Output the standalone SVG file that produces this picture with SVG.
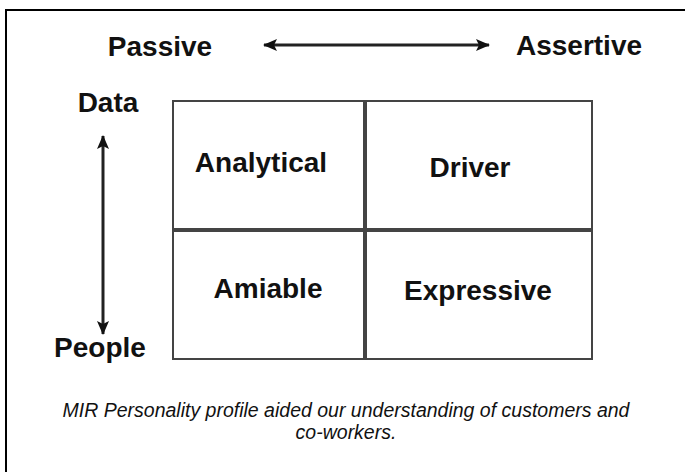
<svg xmlns="http://www.w3.org/2000/svg" width="685" height="472" viewBox="0 0 685 472">
<style>
.lbl{font-family:"Liberation Sans",Arial,sans-serif;font-weight:bold;font-size:28px;fill:#111;text-anchor:middle}
.cap{font-family:"Liberation Sans",Arial,sans-serif;font-style:italic;font-size:19.5px;fill:#111;text-anchor:middle}
.cell{fill:#fff;stroke:#444;stroke-width:2}
.arr{stroke:#222;stroke-width:3;fill:none}
</style>
<defs>
<marker id="ah" viewBox="0 0 14 12" refX="13" refY="6" markerWidth="14" markerHeight="12" markerUnits="userSpaceOnUse" orient="auto-start-reverse">
<path d="M0,0 L14,6 L0,12 L3,6 Z" fill="#111"/>
</marker>
</defs>
<rect x="0" y="0" width="685" height="472" fill="#fff"/>
<rect x="6" y="10" width="720" height="500" fill="none" stroke="#000" stroke-width="2"/>
<g id="connectors">
<line class="arr" x1="264" y1="45" x2="489" y2="45" marker-start="url(#ah)" marker-end="url(#ah)"/>
<line class="arr" x1="103" y1="136" x2="103" y2="334" marker-start="url(#ah)" marker-end="url(#ah)"/>
</g>
<g id="passive"><text class="lbl" x="160" y="56">Passive</text></g>
<g id="assertive"><text class="lbl" x="579" y="55">Assertive</text></g>
<g id="data"><text class="lbl" x="108" y="112">Data</text></g>
<g id="people"><text class="lbl" x="100" y="357">People</text></g>
<g id="analytical"><rect class="cell" x="173" y="101" width="191" height="128"/><text class="lbl" x="261" y="172">Analytical</text></g>
<g id="driver"><rect class="cell" x="366" y="101" width="226" height="128"/><text class="lbl" x="470" y="177">Driver</text></g>
<g id="amiable"><rect class="cell" x="173" y="231" width="191" height="128"/><text class="lbl" x="268" y="298">Amiable</text></g>
<g id="expressive"><rect class="cell" x="366" y="231" width="226" height="128"/><text class="lbl" x="478" y="300">Expressive</text></g>
<g id="caption">
<text class="cap" x="346" y="417">MIR Personality profile aided our understanding of customers and</text>
<text class="cap" x="346" y="439">co-workers.</text>
</g>
</svg>
